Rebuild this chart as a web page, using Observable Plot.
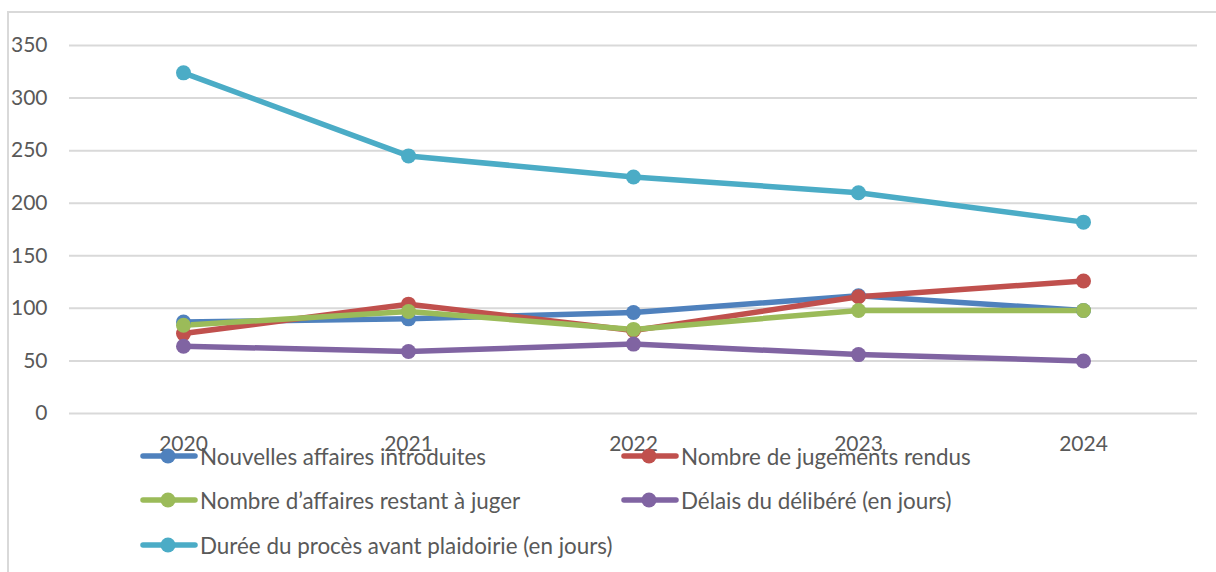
<!DOCTYPE html>
<html>
<head>
<meta charset="utf-8">
<script src="https://cdn.jsdelivr.net/npm/d3@7"></script>
<script src="https://cdn.jsdelivr.net/npm/@observablehq/plot@0.6"></script>
<style>
  html, body { margin: 0; padding: 0; background: #fff; overflow: hidden; }
  #wrap { position: relative; width: 1216px; height: 572px; font-family: Lato, "Open Sans", sans-serif; }
  #frame { position: absolute; left: 7px; top: 11px; width: 1230px; height: 600px; border: 2px solid #d9d9d9; box-sizing: border-box; }
  #chart { position: absolute; left: 0; top: 0; }
  .leg { position: absolute; display: flex; align-items: center; font-size: 22.4px; color: #595959; white-space: nowrap; }
  .leg svg { margin-right: 2px; }
</style>
</head>
<body>
<div id="wrap">
  <div id="frame"></div>
  <div id="chart"></div>
</div>
<script>
const years = ["2020", "2021", "2022", "2023", "2024"];
const seriesNames = [
  "Nouvelles affaires introduites",
  "Nombre de jugements rendus",
  "Nombre d’affaires restant à juger",
  "Délais du délibéré (en jours)",
  "Durée du procès avant plaidoirie (en jours)"
];
const seriesColors = ["#4F81BD", "#C0504D", "#9BBB59", "#8064A2", "#4BACC6"];
const nouvelles = [87, 90, 96, 112, 98];
const jugements = [76, 104, 79, 111, 126];
const restant = [84, 97, 80, 98, 98];
const delais = [64, 59, 66, 56, 50];
const duree = [324, 245, 225, 210, 182];
const yTicks = [0, 50, 100, 150, 200, 250, 300, 350];

const allValues = [nouvelles, jugements, restant, delais, duree];
const data = [];
allValues.forEach((vals, si) => {
  vals.forEach((v, i) => data.push({ year: years[i], series: seriesNames[si], value: v }));
});

const chart = Plot.plot({
  width: 1216,
  height: 572,
  marginLeft: 69,
  marginRight: 19,
  marginTop: 45,
  marginBottom: 159,
  style: { fontFamily: "Lato, 'Open Sans', sans-serif", fontSize: "21px", color: "#595959", background: "transparent" },
  x: { type: "point", domain: years, padding: 0.5, label: null, tickSize: 0, tickPadding: 23 },
  y: { domain: [0, 350], ticks: yTicks, label: null, tickSize: 0, tickPadding: 22 },
  color: { domain: seriesNames, range: seriesColors },
  marks: [
    Plot.gridY(yTicks, { stroke: "#d9d9d9", strokeOpacity: 1, strokeWidth: 2 }),
    Plot.axisY({ ticks: yTicks, tickSize: 0, tickPadding: 22, label: null, fill: "#595959" }),
    Plot.axisX({ tickSize: 0, tickPadding: 23, label: null, fill: "#595959" }),
    ...seriesNames.map(name => Plot.line(data.filter(d => d.series === name), {
      x: "year", y: "value", stroke: seriesColors[seriesNames.indexOf(name)], strokeWidth: 5.5, strokeLinecap: "round", strokeLinejoin: "round"
    })),
    ...seriesNames.map(name => Plot.dot(data.filter(d => d.series === name), {
      x: "year", y: "value", r: 7.5, fill: seriesColors[seriesNames.indexOf(name)], stroke: "none"
    }))
  ]
});
document.getElementById("chart").appendChild(chart);

// Legend (HTML), 2 columns x 3 rows
const legendPos = [[140, 457], [621, 457], [140, 501], [621, 501], [140, 546]];
const wrap = document.getElementById("wrap");
seriesNames.forEach((name, i) => {
  const div = document.createElement("div");
  div.className = "leg";
  div.style.left = legendPos[i][0] + "px";
  div.style.top = (legendPos[i][1] - 16) + "px";
  div.style.height = "30px";
  const c = seriesColors[i];
  div.innerHTML = `<svg width="58" height="20"><line x1="3" y1="10" x2="55" y2="10" stroke="${c}" stroke-width="5.5" stroke-linecap="round"/><circle cx="28" cy="10" r="7.5" fill="${c}"/></svg><span>${name}</span>`;
  wrap.appendChild(div);
});
</script>
</body>
</html>
